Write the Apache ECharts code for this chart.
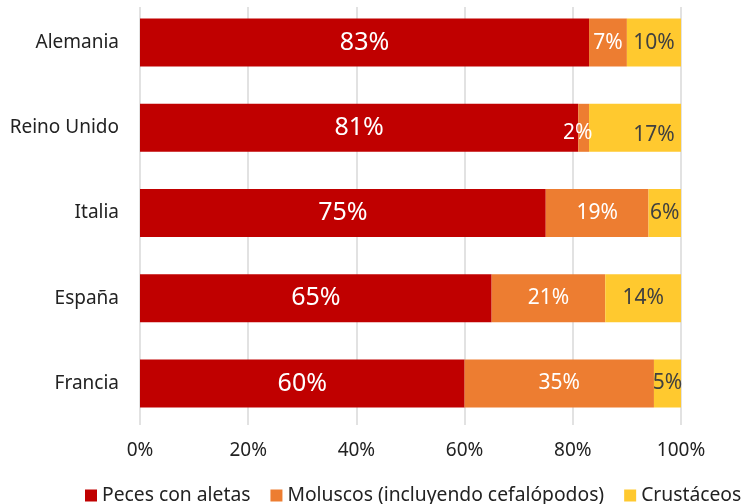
<!DOCTYPE html>
<html><head><meta charset="utf-8">
<script src="https://cdn.jsdelivr.net/npm/echarts@6/dist/echarts.min.js"></script>
<style>html,body{margin:0;padding:0;background:#fff}#c{width:746px;height:504px}</style>
</head><body><div id="c"></div>
<script>
const categories = ['Alemania','Reino Unido','Italia','España','Francia'];
const peces = [83,81,75,65,60];
const moluscos = [7,2,19,21,35];
const crustaceos = [10,17,6,14,5];
const xTicks = [0,20,40,60,80,100];
const seriesNames = ['Peces con aletas','Moluscos (incluyendo cefalópodos)','Crustáceos'];

const FONT = 'Noto Sans';
const chart = echarts.init(document.getElementById('c'));
function lbl(color,size){ return {show:true,position:'inside',color:color,fontFamily:FONT,fontSize:size,formatter:p=>p.value+'%'}; }
const molData = moluscos.map((v,i)=> i===1 ? {value:v,label:{offset:[-6,5]}} : v);
const cruData = crustaceos.map((v,i)=> i===1 ? {value:v,label:{offset:[19,7]}} : v);
chart.setOption({
  animation:false,
  grid:[{left:140,width:541,top:-3,height:429},{left:140,width:541,top:7,height:418}],
  xAxis:[{gridIndex:0,type:'value',min:0,max:100,interval:20,axisLine:{show:false},axisTick:{show:false},splitLine:{show:false},
    axisLabel:{formatter:v=>xTicks.includes(v)?v+'%':'',color:'#222',fontFamily:FONT,fontSize:19,margin:15}},
    {gridIndex:1,type:'value',min:0,max:100,interval:20,axisLine:{show:false},axisTick:{show:false},axisLabel:{show:false},
    splitLine:{show:true,lineStyle:{color:'#d9d9d9',width:1.5}}}],
  yAxis:[{gridIndex:0,type:'category',data:categories,inverse:true,axisLine:{show:false},axisTick:{show:false},
    axisLabel:{color:'#222',fontFamily:FONT,fontSize:19,margin:21}},
    {gridIndex:1,type:'category',data:categories,show:false}],
  legend:{top:481,left:80,width:700,icon:'rect',itemWidth:12,itemHeight:12,itemGap:20,
    textStyle:{color:'#222',fontFamily:FONT,fontSize:19.3},data:seriesNames},
  series:[
    {name:seriesNames[0],type:'bar',stack:'s',data:peces,barWidth:48,itemStyle:{color:'#C00000'},label:lbl('#fff',25)},
    {name:seriesNames[1],type:'bar',stack:'s',data:molData,barWidth:48,itemStyle:{color:'#ED7D31'},label:lbl('#fff',21)},
    {name:seriesNames[2],type:'bar',stack:'s',data:cruData,barWidth:48,itemStyle:{color:'#FFC92F'},label:lbl('#404040',21)}
  ]
});
</script></body></html>
